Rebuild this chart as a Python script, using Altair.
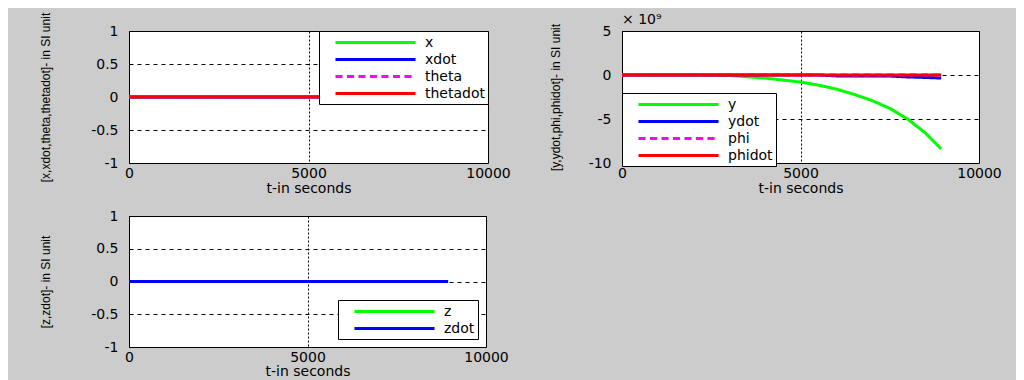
import altair as alt
import pandas as pd

# ---------------- data ----------------
t = [0, 1000, 2000, 3000, 4000, 5000, 5500, 6000, 6500, 7000, 7500, 8000, 8500, 8940]

# panel 1 (all zero)
x_vals        = [0, 0, 0, 0, 0, 0, 0, 0, 0, 0, 0, 0, 0, 0]
xdot_vals     = [0, 0, 0, 0, 0, 0, 0, 0, 0, 0, 0, 0, 0, 0]
theta_vals    = [0, 0, 0, 0, 0, 0, 0, 0, 0, 0, 0, 0, 0, 0]
thetadot_vals = [0, 0, 0, 0, 0, 0, 0, 0, 0, 0, 0, 0, 0, 0]

# panel 2 (units of 1e9)
y_e9      = [0, 0, 0, -0.05, -0.35, -0.8, -1.15, -1.6, -2.2, -2.9, -3.8, -5.0, -6.6, -8.4]
ydot_e9   = [0, 0, 0, 0, 0, 0, 0, -0.1, -0.1, -0.1, -0.12, -0.22, -0.28, -0.35]
phi_e9    = [0, 0, 0, 0, 0, 0, 0, 0, 0, 0, 0, 0, 0, 0]
phidot_e9 = [0, 0, 0, 0, 0, 0, 0, 0, 0, 0, 0, 0, 0, 0]

# panel 3
z_vals    = [0, 0, 0, 0, 0, 0, 0, 0, 0, 0, 0, 0, 0, 0]
zdot_vals = [0, 0, 0, 0, 0, 0, 0, 0, 0, 0, 0, 0, 0, 0]

names1 = ["x", "xdot", "theta", "thetadot"]
names2 = ["y", "ydot", "phi", "phidot"]
names3 = ["z", "zdot"]
colors4 = ["#00ff00", "#0000ff", "#ff00ff", "#ff0000"]
colors2 = ["#00ff00", "#0000ff"]

x_ticks = [0, 5000, 10000]
y1_ticks = [-1, -0.5, 0, 0.5, 1]
y2_ticks = [-10, -5, 0, 5]
multiplier_label = ["× 10⁹"]


def long_df(names, series):
    rows = []
    for n, vals in zip(names, series):
        for ti, v in zip(t, vals):
            rows.append({"t": ti, "v": v, "series": n})
    return pd.DataFrame(rows)


df1 = long_df(names1, [x_vals, xdot_vals, theta_vals, thetadot_vals])
df2 = long_df(names2, [y_e9, ydot_e9, phi_e9, phidot_e9])
df3 = long_df(names3, [z_vals, zdot_vals])

LBL_FONT = "DejaVu Sans"
TTL_FONT = "Liberation Sans"


def panel(df, names, colors, dashes, ydom, yticks, ytitle, title_x, legend_kw, w, h, xtitle_y=29):
    leg = alt.Legend(
        title=None, symbolType="M-6,0H6", symbolSize=178, symbolStrokeWidth=3,
        labelFont=LBL_FONT, labelFontSize=14, labelColor="black",
        fillColor="white", strokeColor="black", padding=3, rowPadding=1,
        symbolOffset=45, labelOffset=41, **legend_kw,
    )
    xaxis = alt.Axis(
        values=x_ticks, title="t-in seconds", grid=True, gridDash=[2, 2],
        gridColor="black", gridOpacity=1, ticks=False, domain=False,
        labelPadding=3, labelFlush=False, labelFont=LBL_FONT, labelFontSize=14,
        labelColor="black", labelExpr="toString(datum.value)",
        titleFont=LBL_FONT, titleFontSize=14,
        titleFontWeight="normal", titleColor="black", titleY=xtitle_y,
        titleBaseline="alphabetic",
    )
    yaxis = alt.Axis(
        values=yticks, title=ytitle, grid=True, gridDash=[4, 4],
        gridColor="black", gridOpacity=1, ticks=False, domain=False,
        labelPadding=11, labelFont=LBL_FONT, labelFontSize=14,
        labelColor="black", labelExpr="toString(datum.value)",
        titleFont=TTL_FONT, titleFontSize=12, titleFontWeight="normal",
        titleColor="black", titleX=title_x, titleY=h / 2, titleAngle=-90,
        titleAlign="center", titleBaseline="middle",
    )
    return alt.Chart(df).mark_line(strokeWidth=3, clip=True).encode(
        x=alt.X("t:Q", scale=alt.Scale(domain=[0, 10000], nice=False), axis=xaxis),
        y=alt.Y("v:Q", scale=alt.Scale(domain=ydom, nice=False), axis=yaxis),
        color=alt.Color("series:N", scale=alt.Scale(domain=names, range=colors), legend=leg),
        strokeDash=alt.StrokeDash("series:N", scale=alt.Scale(domain=names, range=dashes), legend=leg),
    ).properties(width=w, height=h)


solid = [1, 0]
dash = [7, 4.5]

p1 = panel(df1, names1, colors4, [solid, solid, dash, solid], [-1, 1], y1_ticks,
           "[x,xdot,theta,thetadot]- in SI unit", -84,
           dict(orient="top-right", offset=0), 359, 132)
p2_lines = panel(df2, names2, colors4, [solid, solid, dash, solid], [-10, 5], y2_ticks,
                 "[y,ydot,phi,phidot]- in SI unit", -67,
                 dict(orient="none", legendX=0, legendY=62), 357, 132)
p2_mult = alt.Chart(pd.DataFrame({"label": multiplier_label})).mark_text(
    align="left", baseline="alphabetic", font=LBL_FONT, fontSize=14, color="black"
).encode(text="label:N", x=alt.value(0), y=alt.value(-7))
p2 = alt.layer(p2_lines, p2_mult).properties(width=357, height=132)
p3 = panel(df3, names3, colors2, [solid, solid], [-1, 1], y1_ticks,
           "[z,zdot]- in SI unit", -84,
           dict(orient="bottom-right", offset=8), 357, 131, xtitle_y=28)

chart = alt.concat(
    p1, p2, p3, columns=2, bounds="flush",
    spacing=alt.RowColnumber(row=53, column=134),
).resolve_scale(
    color="independent", strokeDash="independent", x="independent", y="independent"
).properties(
    padding={"left": 30, "top": 3, "right": 14, "bottom": 1},
    background="#cccccc",
).configure_view(
    fill="white", stroke="black", strokeWidth=1
)

chart.save("out.html", embed_options={"renderer": "svg", "actions": False})
